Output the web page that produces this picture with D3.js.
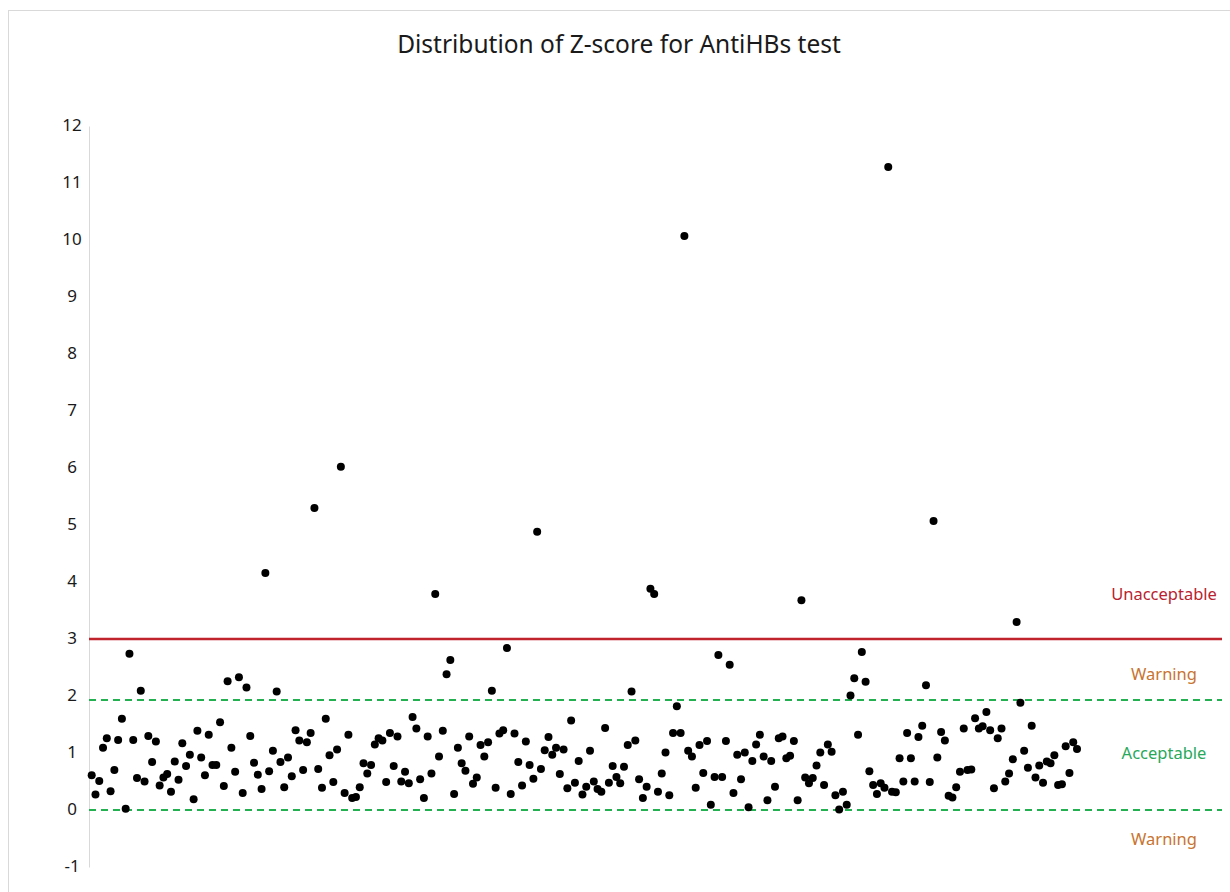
<!DOCTYPE html>
<html lang="en">
<head>
  <meta charset="utf-8" />
  <title>Distribution of Z-score for AntiHBs test</title>
  <style>
    body { margin: 0; background: #ffffff; }
    svg { display: block; font-family: "Noto Sans", "Open Sans", sans-serif; }
  </style>
</head>
<body>
  <svg width="1230" height="892"></svg>

  <script src="https://d3js.org/d3.v7.min.js"></script>
  <script>
    // z-scores in sample order
    const zScores = [
      0.61, 0.27, 0.51, 1.09, 1.26, 0.33, 0.70, 1.23, 1.60, 0.02,
      2.74, 1.23, 0.56, 2.09, 0.50, 1.30, 0.84, 1.20, 0.43, 0.57,
      0.63, 0.32, 0.85, 0.53, 1.17, 0.77, 0.97, 0.19, 1.39, 0.92,
      0.61, 1.32, 0.79, 0.79, 1.54, 0.42, 2.26, 1.09, 0.67, 2.33,
      0.30, 2.15, 1.30, 0.83, 0.62, 0.37, 4.16, 0.68, 1.04, 2.08,
      0.84, 0.40, 0.92, 0.59, 1.40, 1.22, 0.70, 1.19, 1.35, 5.30,
      0.72, 0.39, 1.60, 0.96, 0.49, 1.06, 6.02, 0.30, 1.32, 0.21,
      0.23, 0.40, 0.82, 0.64, 0.79, 1.15, 1.26, 1.22, 0.49, 1.35,
      0.77, 1.29, 0.50, 0.67, 0.47, 1.63, 1.43, 0.54, 0.21, 1.29,
      0.64, 3.79, 0.94, 1.39, 2.38, 2.63, 0.28, 1.09, 0.82, 0.69,
      1.29, 0.46, 0.57, 1.14, 0.94, 1.19, 2.09, 0.39, 1.34, 1.40,
      2.84, 0.28, 1.34, 0.84, 0.43, 1.20, 0.79, 0.55, 4.88, 0.72,
      1.05, 1.28, 0.97, 1.09, 0.63, 1.06, 0.38, 1.57, 0.48, 0.86,
      0.27, 0.41, 1.04, 0.50, 0.37, 0.32, 1.44, 0.48, 0.77, 0.58,
      0.47, 0.76, 1.14, 2.08, 1.22, 0.54, 0.21, 0.41, 3.88, 3.79,
      0.32, 0.64, 1.01, 0.26, 1.35, 1.82, 1.35, 10.07, 1.04, 0.94,
      0.39, 1.14, 0.65, 1.21, 0.09, 0.58, 2.72, 0.58, 1.21, 2.55,
      0.30, 0.97, 0.54, 1.01, 0.05, 0.86, 1.15, 1.32, 0.94, 0.17,
      0.86, 0.41, 1.26, 1.29, 0.91, 0.95, 1.21, 0.17, 3.68, 0.57,
      0.47, 0.56, 0.78, 1.01, 0.44, 1.15, 1.02, 0.26, 0.01, 0.32,
      0.09, 2.01, 2.31, 1.32, 2.77, 2.25, 0.68, 0.44, 0.28, 0.47,
      0.39, 11.28, 0.32, 0.31, 0.91, 0.50, 1.35, 0.91, 0.50, 1.28,
      1.48, 2.19, 0.49, 5.07, 0.92, 1.37, 1.22, 0.25, 0.22, 0.40,
      0.67, 1.43, 0.70, 0.71, 1.61, 1.43, 1.47, 1.72, 1.40, 0.38,
      1.26, 1.43, 0.50, 0.64, 0.89, 3.30, 1.88, 1.04, 0.74, 1.48,
      0.57, 0.78, 0.48, 0.85, 0.82, 0.96, 0.44, 0.45, 1.12, 0.65,
      1.19, 1.07
    ];

    const yTicks = [-1, 0, 1, 2, 3, 4, 5, 6, 7, 8, 9, 10, 11, 12];

    // limit lines and zone labels
    const limits = [
      { name: "unacceptable", value: 3, color: "#c0232c", dash: null },
      { name: "upper warning", value: 1.93, color: "#22b050", dash: "7,5" },
      { name: "lower warning", value: 0, color: "#22b050", dash: "7,5" }
    ];
    const zones = [
      { label: "Unacceptable", value: 3.79, color: "#b8232f" },
      { label: "Warning", value: 2.39, color: "#c8742f" },
      { label: "Acceptable", value: 1.0, color: "#27a85a" },
      { label: "Warning", value: -0.52, color: "#c8742f" }
    ];

    const svg = d3.select("svg");

    // chart border
    svg.append("rect")
      .attr("x", 8.5).attr("y", 10.5)
      .attr("width", 1240).attr("height", 900)
      .attr("fill", "none")
      .attr("stroke", "#d9d9d9");

    svg.append("text")
      .attr("x", 619).attr("y", 53)
      .attr("text-anchor", "middle")
      .attr("font-size", 24.5)
      .attr("fill", "#1a1a1a")
      .text("Distribution of Z-score for AntiHBs test");

    const x = d3.scaleLinear().domain([0, zScores.length - 1]).range([91.7, 1077]);
    const y = d3.scaleLinear().domain([-1, 12]).range([867, 126]);

    const yAxis = svg.append("g")
      .attr("transform", "translate(89,0)")
      .call(d3.axisLeft(y).tickValues(yTicks).tickSize(0).tickFormat(d => String(d)));
    yAxis.select(".domain").attr("stroke", "#d9d9d9");
    yAxis.selectAll(".tick text")
      .attr("font-size", 17)
      .attr("fill", "#1a1a1a")
      .attr("font-family", "\"Noto Sans\", sans-serif")
      .attr("text-anchor", "middle")
      .attr("x", -17)
      .attr("dy", "0.25em");

    svg.append("g")
      .selectAll("line")
      .data(limits)
      .join("line")
      .attr("x1", 89).attr("x2", 1222)
      .attr("y1", d => y(d.value)).attr("y2", d => y(d.value))
      .attr("stroke", d => d.color)
      .attr("stroke-width", d => d.dash ? 2.2 : 2.5)
      .attr("stroke-dasharray", d => d.dash);

    svg.append("g")
      .selectAll("circle")
      .data(zScores)
      .join("circle")
      .attr("cx", (d, i) => x(i))
      .attr("cy", d => y(d))
      .attr("r", 4)
      .attr("fill", "#000");

    svg.append("g")
      .selectAll("text")
      .data(zones)
      .join("text")
      .attr("x", 1164)
      .attr("y", d => y(d.value))
      .attr("dy", "0.35em")
      .attr("text-anchor", "middle")
      .attr("font-size", 16.5)
      .attr("fill", d => d.color)
      .text(d => d.label);
  </script>
</body>
</html>
